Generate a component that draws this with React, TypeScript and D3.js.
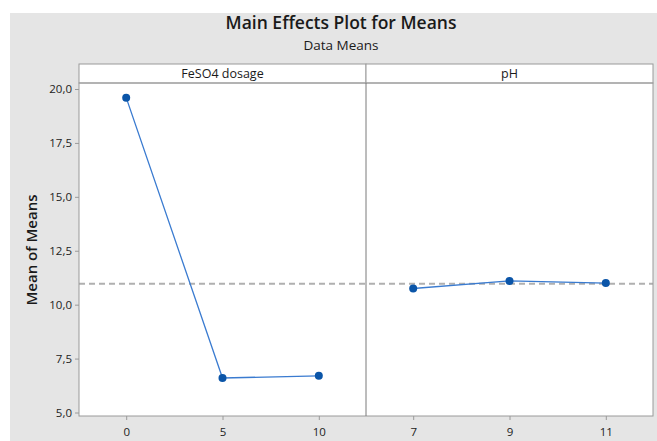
import { useEffect, useRef } from 'react';
import * as d3 from 'd3';

const feso4Levels = ['0', '5', '10'];
const feso4Means = [19.6, 6.6, 6.7];
const phLevels = ['7', '9', '11'];
const phMeans = [10.75, 11.1, 11.0];
const yTicks = [5, 7.5, 10, 12.5, 15, 17.5, 20];
const grandMean = 10.97;

const panels = [
  { name: 'FeSO4 dosage', levels: feso4Levels, means: feso4Means },
  { name: 'pH', levels: phLevels, means: phMeans },
];

const WIDTH = 657;
const HEIGHT = 441;
const FONT = '"Open Sans", "Noto Sans", sans-serif';

export default function App() {
  const svgRef = useRef<SVGSVGElement>(null);

  useEffect(() => {
    if (!svgRef.current) return;
    const svg = d3.select(svgRef.current);
    svg.selectAll('*').remove();

    const left = 79;
    const right = 653;
    const stripTop = 64;
    const top = 83;
    const bottom = 416;
    const panelW = (right - left) / panels.length;

    // Background
    svg.append('rect')
      .attr('x', 10).attr('y', 13)
      .attr('width', WIDTH - 10).attr('height', HEIGHT - 13)
      .attr('fill', '#e5e5e5');

    // Titles
    svg.append('text')
      .attr('x', 341).attr('y', 29)
      .attr('text-anchor', 'middle')
      .attr('font-family', FONT)
      .attr('font-size', '17.5px')
      .attr('font-weight', '600')
      .attr('fill', '#1a1a1a')
      .text('Main Effects Plot for Means');

    svg.append('text')
      .attr('x', 341).attr('y', 50)
      .attr('text-anchor', 'middle')
      .attr('font-family', FONT)
      .attr('font-size', '13.5px')
      .attr('font-weight', '500')
      .attr('fill', '#1a1a1a')
      .text('Data Means');

    const y = d3.scaleLinear().domain([5, 20]).range([412.5, 89]);

    // Plot area
    svg.append('rect')
      .attr('x', left).attr('y', top)
      .attr('width', right - left).attr('height', bottom - top)
      .attr('fill', '#ffffff');

    // Y axis
    const yAxis = svg.append('g')
      .attr('transform', `translate(${left},0)`)
      .call(d3.axisLeft(y)
        .tickValues(yTicks)
        .tickSize(4)
        .tickFormat(d => d3.format('.1f')(d as number).replace('.', ',')));
    yAxis.select('.domain').remove();
    yAxis.selectAll('line').attr('stroke', '#9a9a9a');
    yAxis.selectAll('text')
      .attr('font-family', FONT)
      .attr('font-size', '11.5px')
      .attr('font-weight', '500')
      .attr('fill', '#222');

    svg.append('text')
      .attr('transform', 'rotate(-90)')
      .attr('x', -250).attr('y', 37)
      .attr('text-anchor', 'middle')
      .attr('font-family', FONT)
      .attr('font-size', '15px')
      .attr('font-weight', '600')
      .attr('fill', '#1a1a1a')
      .text('Mean of Means');

    // Reference line
    svg.append('line')
      .attr('x1', left).attr('x2', right)
      .attr('y1', y(grandMean)).attr('y2', y(grandMean))
      .attr('stroke', '#b0b0b0')
      .attr('stroke-width', 2)
      .attr('stroke-dasharray', '6,4');

    panels.forEach((p, i) => {
      const x0 = left + i * panelW;
      const x = d3.scalePoint<string>()
        .domain(p.levels)
        .range([x0, x0 + panelW])
        .padding(0.49);

      // Strip
      svg.append('rect')
        .attr('x', x0).attr('y', stripTop)
        .attr('width', panelW).attr('height', top - stripTop)
        .attr('fill', '#ffffff')
        .attr('stroke', '#9a9a9a');

      svg.append('text')
        .attr('x', x0 + panelW / 2).attr('y', stripTop + 14)
        .attr('text-anchor', 'middle')
        .attr('font-family', FONT)
        .attr('font-size', '12.5px')
        .attr('font-weight', '500')
        .attr('fill', '#1a1a1a')
        .text(p.name);

      // X axis
      const xAxis = svg.append('g')
        .attr('transform', `translate(0,${bottom})`)
        .call(d3.axisBottom(x).tickSize(4).tickPadding(8));
      xAxis.select('.domain').remove();
      xAxis.selectAll('line').attr('stroke', '#9a9a9a');
      xAxis.selectAll('text')
        .attr('font-family', FONT)
        .attr('font-size', '11.5px')
        .attr('font-weight', '500')
        .attr('fill', '#222');

      const pts = p.levels.map((l, j) => [x(l) as number, y(p.means[j])] as [number, number]);

      svg.append('path')
        .attr('d', d3.line()(pts))
        .attr('fill', 'none')
        .attr('stroke', '#3a7bd0')
        .attr('stroke-width', 1.3);

      svg.append('g')
        .selectAll('circle')
        .data(pts)
        .join('circle')
        .attr('cx', d => d[0])
        .attr('cy', d => d[1])
        .attr('r', 4)
        .attr('fill', '#0b55a8');
    });

    // Panel borders
    svg.append('rect')
      .attr('x', left).attr('y', top)
      .attr('width', right - left).attr('height', bottom - top)
      .attr('fill', 'none')
      .attr('stroke', '#9a9a9a');

    svg.append('line')
      .attr('x1', left + panelW).attr('x2', left + panelW)
      .attr('y1', top).attr('y2', bottom)
      .attr('stroke', '#7a7a7a');
  }, []);

  return (
    <svg
      ref={svgRef}
      width={WIDTH}
      height={HEIGHT}
      style={{ position: 'absolute', left: 0, top: 0, background: '#ffffff' }}
    />
  );
}
